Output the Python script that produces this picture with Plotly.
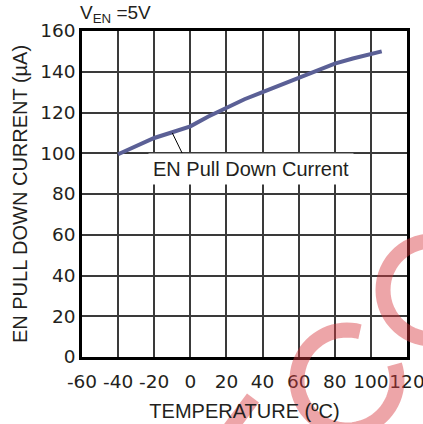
import math
import plotly.graph_objects as go

# EN pull-down current vs temperature, V_EN = 5V
temperature_c = [-40, -30, -20, -10, 0, 10, 20, 30, 40, 50, 60, 70, 80, 90, 100, 106]
pull_down_ua = [99.5, 103.5, 107.5, 110.3, 113.2, 118.0, 122.5, 126.5, 130.0,
                133.5, 137.0, 140.5, 144.0, 146.5, 148.5, 150.0]

x_ticks = [-60, -40, -20, 0, 20, 40, 60, 80, 100, 120]
y_ticks = [0, 20, 40, 60, 80, 100, 120, 140, 160]

LINE_COLOR = "#5b6096"
GRID_COLOR = "#3a3a3a"
TEXT_COLOR = "#231f20"
PINK = "rgba(215,55,62,0.45)"

W, H = 423, 424
# plot area edges in pixels
L, R, T, B = 82, 16, 31, 67


def px_to_paper(px, py):
    return (px - L) / (W - L - R), (H - B - py) / (H - T - B)


def arc_path(cx, cy, r, a0, a1, n=60):
    pts = []
    for i in range(n + 1):
        a = math.radians(a0 + (a1 - a0) * i / n)
        pts.append(px_to_paper(cx + r * math.cos(a), cy - r * math.sin(a)))
    return "M " + " L ".join(f"{x:.4f},{y:.4f}" for x, y in pts)


fig = go.Figure()
fig.add_trace(go.Scatter(
    x=temperature_c, y=pull_down_ua,
    mode="lines",
    line=dict(color=LINE_COLOR, width=4),
    hoverinfo="skip",
    showlegend=False,
))

axis_common = dict(
    showgrid=True,
    gridcolor=GRID_COLOR,
    gridwidth=1.5,
    showline=True,
    linecolor="black",
    linewidth=2.5,
    mirror=True,
    zeroline=False,
    ticks="",
    automargin=False,
    tickangle=0,
    ticklabeloverflow="allow",
    tickfont=dict(family="DejaVu Sans", size=18.5, color=TEXT_COLOR),
)

fig.update_xaxes(
    range=[-60, 120], tickvals=x_ticks, ticktext=[str(v) for v in x_ticks],
    title=dict(text="TEMPERATURE (ºC)", standoff=14,
               font=dict(family="Liberation Sans", size=20, color=TEXT_COLOR)),
    ticklabelstandoff=6,
    **axis_common,
)
fig.update_yaxes(
    range=[0, 160], tickvals=y_ticks, ticktext=[str(v) for v in y_ticks],
    title=dict(text="EN PULL DOWN CURRENT (µA)", standoff=8,
               font=dict(family="Liberation Sans", size=20, color=TEXT_COLOR)),
    **axis_common,
)

# leader line from curve to label
fig.add_shape(type="line", x0=-10, y0=110, x1=-4.5, y1=100,
              line=dict(color="black", width=1))

fig.add_annotation(
    x=33.6, y=92.3, text="EN Pull Down Current", showarrow=False,
    font=dict(family="Liberation Sans", size=20, color=TEXT_COLOR),
    bgcolor="white", borderpad=4,
)

fig.add_annotation(
    xref="paper", yref="paper", x=-0.012, y=1.095,
    xanchor="left", yanchor="top", showarrow=False,
    text="V<sub>EN</sub> =5V",
    font=dict(family="Liberation Sans", size=19, color=TEXT_COLOR),
)

# faint watermark
fig.add_shape(type="path", xref="paper", yref="paper", layer="above",
              path=arc_path(347, 380, 50, 75, 378),
              line=dict(color=PINK, width=15))
fig.add_shape(type="path", xref="paper", yref="paper", layer="above",
              path=arc_path(432, 290, 49, 0, 360),
              line=dict(color=PINK, width=15))
x0, y0 = px_to_paper(253, 398)
x1, y1 = px_to_paper(226, 434)
fig.add_shape(type="line", xref="paper", yref="paper", layer="above",
              x0=x0, y0=y0, x1=x1, y1=y1,
              line=dict(color=PINK, width=15))

fig.update_layout(
    width=W, height=H,
    margin=dict(l=L, r=R, t=T, b=B),
    paper_bgcolor="white",
    plot_bgcolor="white",
    font=dict(family="Liberation Sans", color=TEXT_COLOR),
)

# drop the browser's default 8px body margin so the figure sits at 0,0
fig.write_html("out.html", config={"displayModeBar": False},
               post_script="document.body.style.margin = '0';")
